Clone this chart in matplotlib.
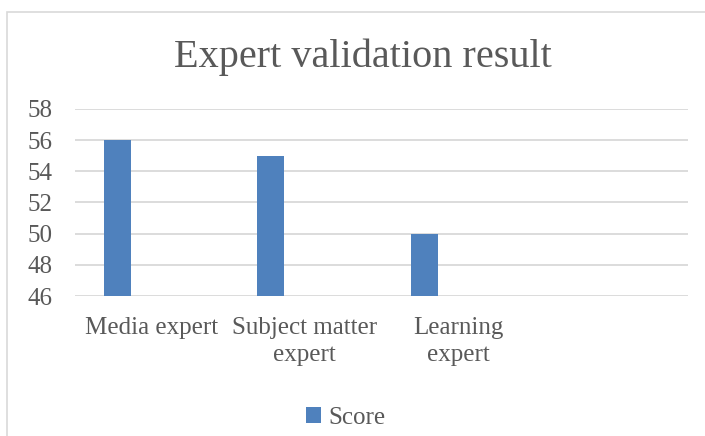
import matplotlib
matplotlib.use("Agg")
import matplotlib.pyplot as plt
from matplotlib.patches import Rectangle

categories = ["Media expert", "Subject matter\nexpert", "Learning\nexpert", ""]
scores = [56, 55, 50]
y_ticks = [46, 48, 50, 52, 54, 56, 58]

BAR_COLOR = "#4F81BD"
GRID_COLOR = "#D9D9D9"
TEXT_COLOR = "#595959"

plt.rcParams["font.family"] = ["Liberation Serif", "DejaVu Serif"]

fig = plt.figure(figsize=(7.05, 4.36), dpi=100)
ax = fig.add_axes([75 / 705, 1 - 296 / 436, 613 / 705, 187 / 436])

# outer chart frame (left and top edges visible in reference)
fig.patches.append(Rectangle((7 / 705, -0.2), 1.2, 1.2 - 12 / 436,
                             transform=fig.transFigure, fill=False,
                             edgecolor="#D9D9D9", linewidth=1.2))

x = list(range(len(categories)))
bar_x = [i - 0.222 for i in x[:len(scores)]]
ax.bar(bar_x, scores, width=0.176, color=BAR_COLOR, label="Score", zorder=3)

ax.set_xlim(-0.5, len(categories) - 0.5)
ax.set_ylim(y_ticks[0], y_ticks[-1])
ax.set_yticks(y_ticks)
ax.set_xticks(x)
ax.set_xticklabels(categories, fontsize=18, color=TEXT_COLOR, linespacing=1.3)
ax.tick_params(axis="y", length=0, pad=16, labelsize=18, labelcolor=TEXT_COLOR)
ax.tick_params(axis="x", length=0, pad=15)
ax.grid(axis="y", color=GRID_COLOR, linewidth=1.3, zorder=0)
for s in ax.spines.values():
    s.set_visible(False)

fig.text(0.515, 1 - 57 / 436, "Expert validation result", ha="center", va="center",
         fontsize=29, color=TEXT_COLOR)

fig.legend(loc="center", bbox_to_anchor=(0.49, 1 - 418 / 436), frameon=False,
           fontsize=18, labelcolor=TEXT_COLOR, handlelength=0.6, handleheight=0.6,
           handletextpad=0.3)

fig.savefig("out.png", dpi=100)
